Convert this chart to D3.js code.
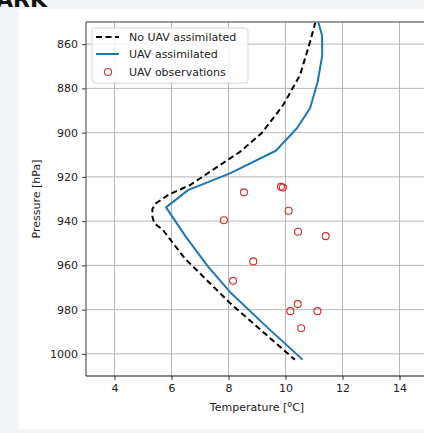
<!DOCTYPE html>
<html><head><meta charset="utf-8">
<script src="https://cdn.jsdelivr.net/npm/d3@7"></script>
<style>
html,body{margin:0;padding:0;background:#f4f5f7;overflow:hidden;}
svg{display:block;font-family:"DejaVu Sans",sans-serif;}
</style></head><body>
<svg id="c" width="424" height="433"></svg>
<script>
// ---- data ----
const noUavT = [11.05,10.86,10.51,9.92,9.16,8.40,7.70,6.65,5.90,5.45,5.33,5.33,5.40,5.70,6.47,8.05,10.27,10.33];
const noUavP = [850,859,874,887.5,900.3,908.7,914.7,923.7,928,932,934.5,938,941,944,956.9,977,1002,1002.6];
const uavT = [11.15,11.28,11.29,11.13,10.86,10.40,9.66,8.05,6.58,5.81,6.50,7.29,8.05,9.34,10.60];
const uavP = [850,856,865,877,889,898,908.2,918.4,926,933.8,947,960.7,972,987.8,1002.6];
const obsT = [8.54,9.84,9.91,10.11,10.44,11.41,8.87,8.16,7.84,10.17,10.43,11.12,10.55];
const obsP = [927.0,924.5,924.8,935.3,944.8,946.8,958.2,967.0,939.6,980.7,977.5,980.7,988.4];
const xTicks = [4,6,8,10,12,14];
const yTicks = [860,880,900,920,940,960,980,1000];
const legendLabels = ["No UAV assimilated","UAV assimilated","UAV observations"];

const svg = d3.select("#c");
// white panel
svg.append("rect").attr("x",19).attr("y",9).attr("width",420).attr("height",420).attr("fill","#fff");
// cut-off heading
svg.append("text").attr("x",-4).attr("y",7).attr("font-size",22).attr("font-weight","bold")
  .attr("fill","#111").text("ARK");

const L=86, R=428, T=22, B=376;
const x = d3.scaleLinear().domain([3,15]).range([L,R]);
const y = d3.scaleLinear().domain([850,1010]).range([T,B]);

// grid
const g = svg.append("g");
g.selectAll(".gx").data(xTicks).enter().append("line")
  .attr("x1",d=>x(d)).attr("x2",d=>x(d)).attr("y1",T).attr("y2",B)
  .attr("stroke","#b0b0b0").attr("stroke-width",0.9);
g.selectAll(".gy").data(yTicks).enter().append("line")
  .attr("x1",L).attr("x2",R).attr("y1",d=>y(d)).attr("y2",d=>y(d))
  .attr("stroke","#b0b0b0").attr("stroke-width",0.9);

// lines
svg.append("clipPath").attr("id","clp").append("rect")
  .attr("x",L).attr("y",T).attr("width",R-L).attr("height",B-T);
const plot = svg.append("g").attr("clip-path","url(#clp)");
const line = d3.line().x(d=>x(d[0])).y(d=>y(d[1]));
plot.append("path").datum(uavT.map((t,i)=>[t,uavP[i]])).attr("d",line)
  .attr("fill","none").attr("stroke","#1f77b4").attr("stroke-width",2).attr("stroke-linejoin","round");
plot.append("path").datum(noUavT.map((t,i)=>[t,noUavP[i]])).attr("d",line)
  .attr("fill","none").attr("stroke","#000").attr("stroke-width",2).attr("stroke-dasharray","6,3.5");
plot.selectAll(".obs").data(obsT.map((t,i)=>[t,obsP[i]])).enter().append("circle")
  .attr("cx",d=>x(d[0])).attr("cy",d=>y(d[1])).attr("r",3.5)
  .attr("fill","none").attr("stroke","#d62728").attr("stroke-width",1.1);

// axes
const ax = svg.append("g").attr("transform",`translate(0,${B})`)
  .call(d3.axisBottom(x).tickValues(xTicks).tickFormat(d3.format("d")).tickSize(4).tickPadding(4).tickSizeOuter(0));
const ay = svg.append("g").attr("transform",`translate(${L},0)`)
  .call(d3.axisLeft(y).tickValues(yTicks).tickFormat(d3.format("d")).tickSize(4).tickPadding(4).tickSizeOuter(0));
[ax,ay].forEach(a=>{
  a.select(".domain").remove();
  a.selectAll("text").attr("font-size",11).attr("fill","#222").attr("font-family","DejaVu Sans");
  a.selectAll("line").attr("stroke","#333");
});
// spines
svg.append("line").attr("x1",L).attr("x2",R).attr("y1",T).attr("y2",T).attr("stroke","#7a7a7a").attr("stroke-width",1.4);
svg.append("line").attr("x1",L).attr("x2",L).attr("y1",T).attr("y2",B).attr("stroke","#555").attr("stroke-width",1.2);
svg.append("line").attr("x1",L).attr("x2",R).attr("y1",B).attr("y2",B).attr("stroke","#111").attr("stroke-width",1.2);

// axis labels
const xl = svg.append("text").attr("x",257).attr("y",411).attr("text-anchor","middle")
  .attr("font-size",11).attr("fill","#222");
xl.append("tspan").text("Temperature [");
xl.append("tspan").attr("font-size",8).attr("dy",-4).text("o");
xl.append("tspan").attr("dy",4).text("C]");
svg.append("text").attr("transform","translate(40,199) rotate(-90)").attr("text-anchor","middle")
  .attr("font-size",11).attr("fill","#222").text("Pressure [hPa]");

// legend
const lg = svg.append("g");
lg.append("rect").attr("x",92).attr("y",28).attr("width",156).attr("height",55).attr("rx",3)
  .attr("fill","#fff").attr("fill-opacity",0.85).attr("stroke","#d0d0d0").attr("stroke-width",0.9);
const rows=[37,54,72];
lg.append("line").attr("x1",96).attr("x2",119).attr("y1",rows[0]).attr("y2",rows[0])
  .attr("stroke","#000").attr("stroke-width",2).attr("stroke-dasharray","6,3.5");
lg.append("line").attr("x1",96).attr("x2",119).attr("y1",rows[1]).attr("y2",rows[1])
  .attr("stroke","#1f77b4").attr("stroke-width",2);
lg.append("circle").attr("cx",108).attr("cy",rows[2]).attr("r",3.5)
  .attr("fill","none").attr("stroke","#d62728").attr("stroke-width",1.1);
lg.selectAll(".lt").data(legendLabels).enter().append("text")
  .attr("x",129).attr("y",(d,i)=>rows[i]+4).attr("font-size",11).attr("fill","#222").text(d=>d);
</script>
</body></html>
